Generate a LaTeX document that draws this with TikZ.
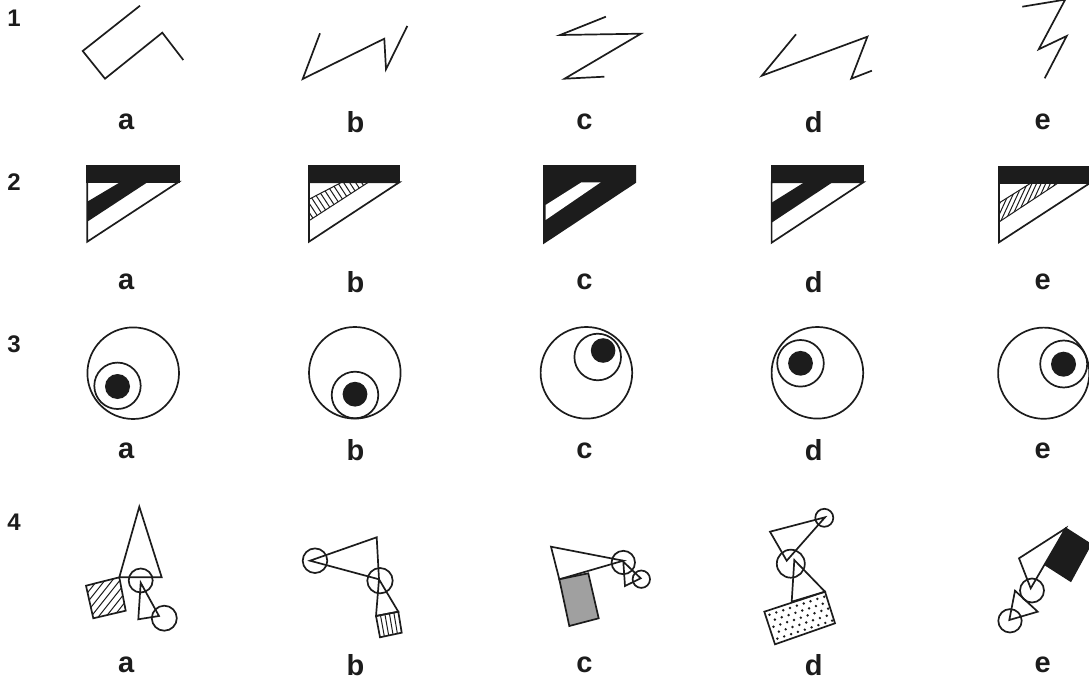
\documentclass[tikz,border=0pt]{standalone}
\usepackage{fontspec}
\setmainfont{Liberation Sans}
\usetikzlibrary{calc}
\definecolor{ink}{RGB}{28,28,28}
\definecolor{greyfill}{RGB}{160,160,160}
\tikzset{
  shp/.style={draw=ink, line width=1.7pt, line join=miter},
  hatchline/.style={draw=ink, line width=1pt},
  lbl/.style={font=\bfseries\fontsize{29}{30}\selectfont, text=ink, inner sep=0pt},
  num/.style={font=\bfseries\fontsize{24}{26}\selectfont, text=ink, inner sep=0pt},
}
\begin{document}
\begin{tikzpicture}[x=1pt, y=-1pt]
\useasboundingbox (0,0) rectangle (1089,684);
\clip (0,0) rectangle (1089,684);

% ---------- row numbers ----------
\node[num] (n1) at (14,18) {1};
\node[num] (n2) at (14,182) {2};
\node[num] (n3) at (14,344) {3};
\node[num] (n4) at (14,522) {4};

% ---------- labels ----------
\foreach \r/\yy in {1/121.7, 2/282, 3/450.5, 4/665} {
  \node[lbl] (l\r a) at (126.3,\yy) {a};
  \node[lbl] (l\r b) at (355.4,\yy) {b};
  \node[lbl] (l\r c) at (584.5,\yy) {c};
  \node[lbl] (l\r d) at (813.6,\yy) {d};
  \node[lbl] (l\r e) at (1042.7,\yy) {e};
}

% ---------- row 1 ----------
\draw[shp] (140,5.7) -- (82.7,51) -- (105,78.7) -- (162.3,32.7) -- (183.3,60);
\draw[shp] (320,33.3) -- (302.7,79) -- (384.3,38.7) -- (386,69.3) -- (407.3,26);
\draw[shp] (605.9,16.7) -- (560.1,35) -- (640.9,33.7) -- (564.6,78.7) -- (604.4,76.7);
\draw[shp] (796,34.3) -- (761.8,75.7) -- (867.4,36.7) -- (851.2,78.7) -- (871.9,70.7);
\draw[shp] (1022.3,6.7) -- (1065.2,-0.4) -- (1038.7,49.3) -- (1066.7,36) -- (1044.7,78.3);

% ---------- row 2 ----------
% a
\filldraw[shp, fill=ink] (87.3,165.7) rectangle (179,181.7);
\draw[shp] (87.3,181.7) -- (179,181.7) -- (87.3,241.7) -- cycle;
\fill[ink] (121,181.7) -- (148.3,181.7) -- (87.3,221.7) -- (87.3,201.7) -- cycle;
% b
\filldraw[shp, fill=ink] (309,165.7) rectangle (399.3,182.3);
\draw[shp] (309,182.3) -- (399.3,182.3) -- (309,241.7) -- cycle;
\begin{scope}
  \clip (341.7,182.3) -- (368.3,182.3) -- (309,220.7) -- (309,199.3) -- cycle;
  \foreach \k in {-9,...,9} \draw[hatchline] ({338+6*\k-16.5},176.3) -- ++(33,50.4);
\end{scope}
\draw[hatchline] (341.7,182.3) -- (309,199.3) (368.3,182.3) -- (309,220.7);
% c
\filldraw[shp, fill=ink] (544,166) -- (635.2,166) -- (635.2,182.3) -- (544,242.7) -- cycle;
\fill[white] (581.5,182.3) -- (600.7,182.3) -- (545.6,220) -- (545.6,205) -- cycle;
% d
\filldraw[shp, fill=ink] (771.6,166) rectangle (863.3,182.3);
\draw[shp] (771.6,182.3) -- (863.3,182.3) -- (771.6,242.7) -- cycle;
\fill[ink] (804.3,182.3) -- (832.5,182.3) -- (771.6,222.7) -- (771.6,202.7) -- cycle;
% e
\filldraw[shp, fill=ink] (999,166.7) rectangle (1090.5,182.7);
\draw[shp] (999,182.7) -- (1090.5,182.7) -- (999,242.3) -- cycle;
\begin{scope}
  \clip (1031.5,182.7) -- (1058.5,182.7) -- (999,222) -- (999,203) -- cycle;
  \foreach \k in {-12,...,12} \draw[hatchline] ({1028+4.6*\k-12.6},229.3) -- ++(25.2,-54.6);
\end{scope}
\draw[hatchline] (1031.5,182.7) -- (999,203) (1058.5,182.7) -- (999,222);

% ---------- row 3 ----------
% a
\draw[shp] (133.2,373.2) circle[radius=45.8pt];
\draw[shp] (117.5,385.8) circle[radius=23.2pt];
\fill[ink] (117.5,386.5) circle[radius=12.5pt];
% b
\draw[shp] (354.8,372.8) circle[radius=45.8pt];
\draw[shp] (355,395) circle[radius=23.3pt];
\fill[ink] (355,394.2) circle[radius=12.4pt];
% c
\draw[shp] (586.4,372.8) circle[radius=45.8pt];
\draw[shp] (597.7,357) circle[radius=23.3pt];
\fill[ink] (603.1,350.5) circle[radius=12.3pt];
% d
\draw[shp] (817.4,372.8) circle[radius=45.8pt];
\draw[shp] (800.5,363.3) circle[radius=23.3pt];
\fill[ink] (800.5,363.3) circle[radius=12.4pt];
% e
\draw[shp] (1043.7,373.2) circle[radius=45.6pt];
\draw[shp] (1063.7,364) circle[radius=23.5pt];
\fill[ink] (1063.5,364.2) circle[radius=12.5pt];

% ---------- row 4 ----------
% a
\draw[shp] (139.3,506.7) -- (119.3,577.3) -- (161.7,577.3) -- cycle;
\begin{scope}
  \clip (119.3,577.3) -- (86,585.7) -- (93.3,618.3) -- (125.7,610.7) -- cycle;
  \foreach \k in {-7,...,7} \draw[hatchline] ({106+7.5*\k-24.8},629) -- ++(49.6,-62.4);
\end{scope}
\draw[shp] (119.3,577.3) -- (86,585.7) -- (93.3,618.3) -- (125.7,610.7) -- cycle;
\draw[shp] (140.7,580.5) circle[radius=12pt];
\draw[shp] (140.7,582.7) -- (138.3,619.3) -- (159,616) -- cycle;
\draw[shp] (164.3,618.2) circle[radius=12.5pt];
% b
\draw[shp] (315,560.7) circle[radius=12.3pt];
\draw[shp] (310,560.7) -- (376.7,537.3) -- (379,579.3) -- cycle;
\draw[shp] (380,580.7) circle[radius=12.7pt];
\draw[shp] (379,579.3) -- (376,616) -- (398.3,611.7) -- cycle;
\coordinate (bA) at (376,616);
\coordinate (bB) at (398.3,611.7);
\coordinate (bC) at (401.7,632.7);
\coordinate (bD) at (380,637.3);
\foreach \f in {0.2,0.4,0.6,0.8} \draw[hatchline] ($(bA)!\f!(bB)$) -- ($(bD)!\f!(bC)$);
\draw[shp] (bA) -- (bB) -- (bC) -- (bD) -- cycle;
% c
\draw[shp] (551,546.7) -- (559.3,579.3) -- (623.3,560.7) -- cycle;
\filldraw[shp, fill=greyfill] (559.3,579.3) -- (588.3,573.3) -- (598.7,618.3) -- (569.3,626) -- cycle;
\draw[shp] (623.3,562.5) circle[radius=11.7pt];
\draw[shp] (623.3,561.7) -- (625,586) -- (640.7,578.3) -- cycle;
\draw[shp] (641.3,579.2) circle[radius=8.7pt];
% d
\draw[shp] (824.3,517.8) circle[radius=9pt];
\draw[shp] (825,517.3) -- (770,531.7) -- (786.7,560.7) -- cycle;
\draw[shp] (790.8,563.7) circle[radius=14pt];
\draw[shp] (794.3,560) -- (791.7,601.7) -- (825,591.7) -- cycle;
\begin{scope}
  \clip (764.3,611.7) -- (825,591.7) -- (835,623.3) -- (775,644.3) -- cycle;
  \begin{scope}[shift={(764.3,611.7)}, x={(0.9497pt,0.3130pt)}, y={(0.3130pt,-0.9497pt)}]
    \foreach \j in {0,...,4} {
      \pgfmathsetmacro{\off}{mod(\j,2)*3.6}
      \foreach \i in {0,...,8} {
        \fill[ink] ({4+\off+7.2*\i},{4.5+6.3*\j}) circle[radius=1.35pt];
      }
    }
  \end{scope}
\end{scope}
\draw[shp] (764.3,611.7) -- (825,591.7) -- (835,623.3) -- (775,644.3) -- cycle;
% e
\draw[shp] (1065.7,528.3) -- (1019,558.3) -- (1030.7,588.3) -- cycle;
\filldraw[shp, fill=ink] (1065.7,528.3) -- (1090.7,544.3) -- (1070.7,581) -- (1045.7,565) -- cycle;
\draw[shp] (1032,590.5) circle[radius=12pt];
\draw[shp] (1015,590.7) -- (1037.7,611.7) -- (1009.3,620) -- cycle;
\draw[shp] (1010,620.8) circle[radius=11.7pt];
\end{tikzpicture}
\end{document}
